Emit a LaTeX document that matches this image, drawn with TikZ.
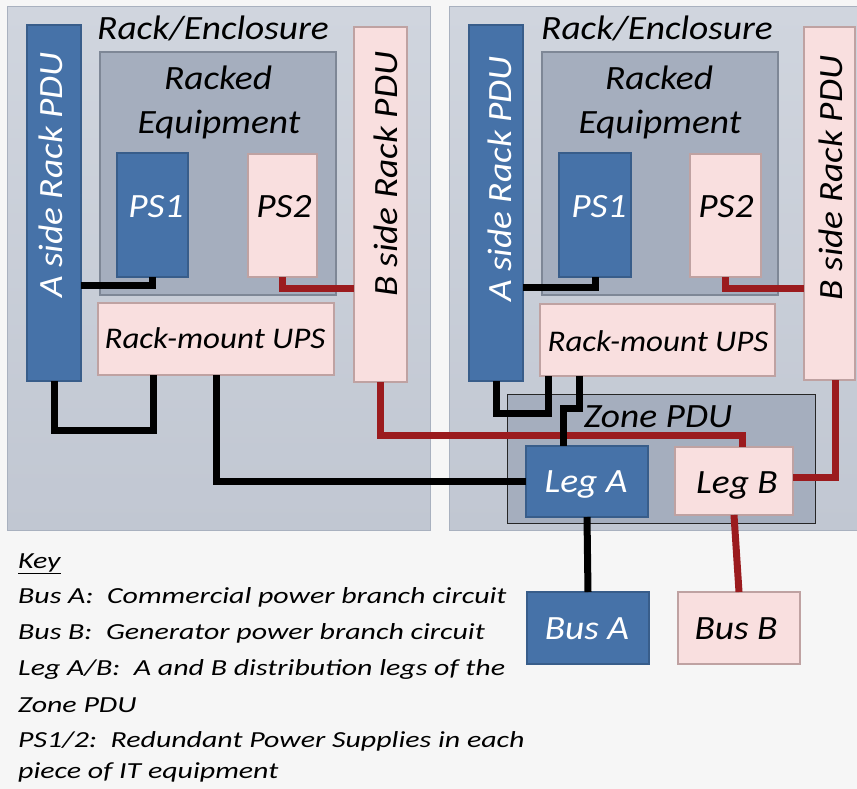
\documentclass[tikz,border=0pt]{standalone}
\usepackage{fontspec}
\setmainfont{Carlito}[FakeStretch=1.1]
\newfontfamily\keyfont{Carlito}[FakeStretch=1.3]
\definecolor{bgc}{HTML}{F6F6F6}
\definecolor{rackt}{HTML}{D0D5DE}
\definecolor{rackb}{HTML}{C1C7D2}
\definecolor{rackd}{HTML}{A9B1BF}
\definecolor{eqf}{HTML}{A5AEBE}
\definecolor{eqd}{HTML}{7E8796}
\definecolor{bluef}{HTML}{4672A8}
\definecolor{blued}{HTML}{385D8A}
\definecolor{pinkf}{HTML}{F9DFDF}
\definecolor{pinkd}{HTML}{BFA2A2}
\definecolor{wired}{HTML}{9B1B1E}
\tikzset{
  bx/.style={rectangle, inner sep=0pt, outer sep=0pt, anchor=north west},
  rackbox/.style={bx, top color=rackt, bottom color=rackb, draw=rackd, line width=1pt},
  eqbox/.style={bx, fill=eqf, draw=eqd, line width=1.5pt},
  zonebox/.style={bx, fill=eqf, draw=black!85, line width=1pt},
  bluebox/.style={bx, fill=bluef, draw=blued, line width=1.5pt},
  pinkbox/.style={bx, fill=pinkf, draw=pinkd, line width=1.5pt},
  lab/.style={font=\fontsize{34}{40}\selectfont\itshape, anchor=base, inner sep=0pt},
  wlab/.style={lab, text=white},
  keyt/.style={font=\keyfont\fontsize{23}{27}\selectfont\itshape, anchor=base west, inner sep=0pt},
  wa/.style={line width=7pt, draw=black, line join=miter},
  wb/.style={line width=7pt, draw=wired, line join=miter}
}
\begin{document}
\begin{tikzpicture}[x=1pt,y=-1pt]
\fill[bgc] (0,0) rectangle (857,789);
\useasboundingbox (0,0) rectangle (857,789);
% left rack
\node[rackbox, minimum width=423pt, minimum height=523pt] (rackL) at (7,7) {};
\node[eqbox, minimum width=236pt, minimum height=243pt] (eqL) at (100,52) {};
\node[bluebox, minimum width=54pt, minimum height=356pt] (apduL) at (27,25) {};
\node[pinkbox, minimum width=53pt, minimum height=355pt] (bpduL) at (354,27) {};
\node[bluebox, minimum width=71pt, minimum height=124pt] (ps1L) at (117,153) {};
\node[pinkbox, minimum width=69pt, minimum height=123pt] (ps2L) at (248,154) {};
\node[pinkbox, minimum width=236pt, minimum height=72pt] (upsL) at (98,303) {};
% right rack
\node[rackbox, minimum width=430pt, minimum height=523pt] (rackR) at (449,7) {};
\node[eqbox, minimum width=236pt, minimum height=243pt] (eqR) at (542,52) {};
\node[bluebox, minimum width=54pt, minimum height=356pt] (apduR) at (469,25) {};
\node[pinkbox, minimum width=51pt, minimum height=353pt] (bpduR) at (804,27) {};
\node[bluebox, minimum width=72pt, minimum height=124pt] (ps1R) at (559,153) {};
\node[pinkbox, minimum width=71pt, minimum height=123pt] (ps2R) at (690,154) {};
\node[pinkbox, minimum width=235pt, minimum height=72pt] (upsR) at (540,304) {};
\node[zonebox, minimum width=308pt, minimum height=129pt] (zone) at (507,394) {};
\node[bluebox, minimum width=122pt, minimum height=71pt] (legA) at (526,446) {};
\node[pinkbox, minimum width=118pt, minimum height=68pt] (legB) at (675,447) {};
\node[bluebox, minimum width=122pt, minimum height=72pt] (busA) at (527,592) {};
\node[pinkbox, minimum width=122pt, minimum height=72pt] (busB) at (678,592) {};
% labels
\node[lab] (tRackL) at (213,40) {Rack/Enclosure};
\node[lab] (tRackR) at (657,40) {Rack/Enclosure};
\node[lab] (tEq1L) at (218,90) {Racked};
\node[lab] (tEq2L) at (219,134) {Equipment};
\node[lab] (tEq1R) at (659,90) {Racked};
\node[lab] (tEq2R) at (660,134) {Equipment};
\node[wlab] (tps1L) at (156,217) {PS1};
\node[lab] (tps2L) at (284,217) {PS2};
\node[wlab] (tps1R) at (599,217) {PS1};
\node[lab] (tps2R) at (726,217) {PS2};
\node[wlab, rotate=90] (tapduL) at (62,175) {A side Rack PDU};
\node[lab, rotate=90] (tbpduL) at (397,174) {B side Rack PDU};
\node[wlab, rotate=90] (tapduR) at (511,179) {A side Rack PDU};
\node[lab, rotate=90] (tbpduR) at (842,178) {B side Rack PDU};
\node[lab, font=\fontsize{30}{36}\selectfont\itshape] (tupsL) at (215,348) {Rack-mount UPS};
\node[lab, font=\fontsize{30}{36}\selectfont\itshape] (tupsR) at (658,351) {Rack-mount UPS};
\node[lab] (tzone) at (658,427) {Zone PDU};
\node[wlab] (tlegA) at (586,492) {Leg A};
\node[lab] (tlegB) at (737,493) {Leg B};
\node[wlab] (tbusA) at (587,639) {Bus A};
\node[lab] (tbusB) at (736,639) {Bus B};
% wires
\draw[wa] (ps1L.south) |- (apduL.east |- 0,285);
\draw[wb] (ps2L.south) |- (bpduL.west |- 0,288);
\draw[wa] (apduL.south) |- (153,430) -- (153,0 |- upsL.south);
\draw[wb] (bpduL.south) |- (742,435) -- (742,0 |- legB.north);
\draw[wa] (upsL.south) |- (legA.west);
\draw[wa] (ps1R.south) |- (apduR.east |- 0,287);
\draw[wb] (ps2R.south) |- (bpduR.west |- 0,288);
\draw[wa] (apduR.south) |- (548,413) -- (548,0 |- upsR.south);
\draw[wa] (579,0 |- upsR.south) |- (563,408) -- (563,0 |- legA.north);
\draw[wb] (835,0 |- bpduR.south) |- (legB.east |- 0,477);
\draw[wa] (legA.south) -- (busA.north);
\draw[wb] (legB.south) -- (busB.north);
% key
\node[keyt] (k0) at (18,568) {\underline{Key}};
\node[keyt] (k1) at (18,603) {Bus A:\ \ Commercial power branch circuit};
\node[keyt] (k2) at (18,639) {Bus B:\ \ Generator power branch circuit};
\node[keyt] (k3) at (18,675) {Leg A/B:\ \ A and B distribution legs of the};
\node[keyt] (k4) at (18,712) {Zone PDU};
\node[keyt] (k5) at (18,747) {PS1/2:\ \ Redundant Power Supplies in each};
\node[keyt] (k6) at (18,778) {piece of IT equipment};
\end{tikzpicture}
\end{document}
